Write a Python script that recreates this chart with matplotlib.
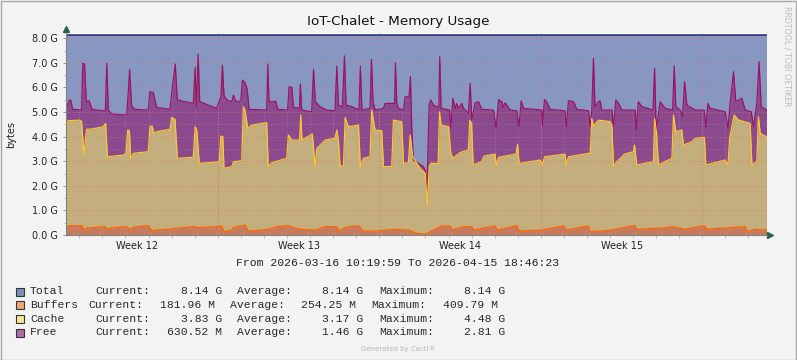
import matplotlib
matplotlib.use("Agg")
import matplotlib.pyplot as plt
from matplotlib.ticker import MultipleLocator, FuncFormatter
from matplotlib.patches import Rectangle

# --- time range (days since Mon 2026-03-16 00:00) ---
t_start = 10 / 24 + 19 / 1440 + 59 / 86400      # 2026-03-16 10:19:59
t_end = 30 + 18 / 24 + 46 / 1440 + 23 / 86400   # 2026-04-15 18:46:23

week_labels = ["Week 12", "Week 13", "Week 14", "Week 15"]
week_centers = [3.5, 10.5, 17.5, 24.5]
week_bounds = [7, 14, 21, 28]

# --- series, in G (stacked tops as drawn) ---
total_t = [t_start, t_end]
total_v = [8.14, 8.14]

free_t = [0.43, 0.57, 0.64, 0.71, 1.10, 1.15, 1.23, 1.30, 1.43, 1.55, 2.13, 2.19, 2.26, 2.40,
          3.05, 3.11, 3.18, 3.27, 3.41, 3.99, 4.06, 4.21, 4.35, 4.93, 5.02, 5.16, 5.25, 5.94,
          6.02, 6.07, 6.15, 6.22, 6.95, 7.14, 7.20, 7.27, 7.39, 7.61, 7.68, 7.78, 8.00, 8.07,
          8.18, 8.27, 8.36, 9.12, 9.17, 9.22, 9.45, 9.51, 9.60, 10.03, 10.09, 10.21, 10.28,
          10.54, 10.58, 10.64, 11.07, 11.15, 11.23, 11.43, 11.72, 12.08, 12.16, 12.23, 12.40,
          12.49, 12.56, 12.81, 13.12, 13.18, 13.25, 13.60, 13.66, 13.73, 13.82, 14.18, 14.25,
          14.66, 14.70, 14.76, 14.83, 15.05, 15.12, 15.29, 15.35, 15.41, 15.48, 15.91, 16.00,
          16.06, 16.16, 16.23, 16.35, 16.58, 16.62, 16.68, 17.04, 17.10, 17.19, 17.29, 17.36,
          17.43, 17.58, 17.65, 17.86, 17.94, 18.01, 18.15, 18.30, 18.44, 18.95, 19.06, 19.17,
          19.31, 19.38, 19.45, 19.67, 19.96, 20.05, 20.15, 20.25, 21.04, 21.07, 21.16, 21.26,
          21.40, 22.05, 22.10, 22.20, 22.42, 22.56, 23.07, 23.14, 23.21, 23.28, 23.35, 23.50,
          23.57, 23.64, 24.08, 24.15, 24.25, 24.37, 24.51, 25.09, 25.13, 25.23, 25.38, 25.86,
          25.93, 26.00, 26.17, 26.39, 26.71, 26.78, 26.85, 27.04, 27.14, 27.23, 27.33, 27.69,
          28.08, 28.15, 28.24, 28.34, 28.99, 29.11, 29.21, 29.35, 29.45, 29.71, 29.86, 30.12,
          30.22, 30.36, 30.46, 30.55, 30.78]
free_v = [5.15, 5.49, 5.46, 5.11, 5.08, 6.98, 6.95, 5.42, 5.46, 5.11, 5.04, 6.98, 5.08, 4.92,
          4.88, 5.62, 6.73, 5.24, 5.11, 5.08, 5.83, 5.79, 5.19, 5.11, 5.89, 6.95, 5.49, 5.35,
          6.82, 5.19, 7.36, 5.42, 5.15, 5.62, 6.91, 5.69, 5.49, 5.42, 5.69, 5.42, 5.45, 6.30,
          6.19, 5.96, 5.11, 5.08, 6.95, 5.42, 5.42, 5.45, 5.11, 5.08, 6.03, 6.00, 5.19,
          5.15, 6.14, 5.08, 5.01, 6.73, 5.42, 5.22, 5.08, 5.05, 6.87, 5.28, 5.22,
          7.28, 5.28, 5.22, 5.08, 6.87, 5.08, 5.15, 7.14, 5.42, 5.08, 5.15, 5.35,
          5.35, 7.00, 5.35, 5.15, 5.08, 5.62, 5.62, 6.44, 4.27, 3.05, 2.78, 2.60,
          1.69, 5.28, 5.49, 5.28, 5.19, 7.25, 5.15, 5.08, 4.40, 5.56, 5.15, 5.35,
          5.15, 5.35, 5.15, 4.95, 6.17, 4.67, 5.35, 5.42, 5.11, 5.08, 4.34, 5.51,
          5.42, 5.20, 5.38, 5.08, 5.05, 4.40, 5.46, 5.15, 5.08, 4.47, 5.51, 5.42,
          5.11, 5.05, 4.40, 5.46, 5.42, 5.11, 5.05, 4.40, 5.08, 7.18, 5.22, 5.42,
          5.46, 5.08, 5.08, 4.40, 5.49, 5.35, 5.08, 5.08, 4.27, 5.42, 5.22, 5.08,
          6.78, 4.27, 5.42, 5.15, 5.08, 6.87, 5.22, 5.08, 4.81, 6.23, 5.28, 5.08,
          5.08, 4.40, 5.35, 5.15, 5.01, 4.34, 5.42, 6.64, 5.42, 5.56, 5.08, 5.01,
          4.40, 5.35, 7.05, 5.22, 5.08]

cache_t = [0.43, 0.52, 1.03, 1.10, 1.20, 1.28, 1.32, 1.54, 2.04, 2.14, 2.22, 2.91, 3.02, 3.10,
           3.17, 3.23, 3.34, 3.99, 4.06, 4.15, 4.24, 4.35, 4.93, 5.00, 5.15, 5.25, 5.94, 6.02,
           6.09, 6.20, 7.07, 7.13, 7.22, 7.27, 7.61, 7.68, 8.04, 8.11, 8.18, 8.30, 8.47, 9.12,
           9.19, 9.34, 9.99, 10.06, 10.21, 10.54, 10.60, 10.65, 11.10, 11.22, 11.29, 11.65,
           12.08, 12.16, 12.23, 12.30, 12.45, 12.52, 12.66, 13.10, 13.18, 13.31, 13.60, 13.67,
           13.82, 14.11, 14.18, 14.54, 14.61, 14.97, 15.05, 15.26, 15.34, 15.45, 15.77, 15.99,
           16.09, 16.16, 16.23, 16.55, 16.61, 16.68, 17.00, 17.10, 17.19, 17.50, 17.86, 17.92,
           18.00, 18.07, 18.44, 18.54, 19.02, 19.06, 19.17, 19.93, 19.99, 20.06, 20.97, 21.07,
           21.16, 22.05, 22.10, 22.20, 23.07, 23.14, 23.21, 23.28, 23.50, 24.00, 24.08, 24.15,
           24.29, 24.63, 25.02, 25.06, 25.16, 25.88, 25.93, 26.01, 26.10, 26.68, 26.75, 26.85,
           27.11, 27.18, 27.54, 27.69, 28.09, 28.15, 28.99, 29.11, 29.18, 29.38, 29.57, 30.07,
           30.15, 30.36, 30.43, 30.51, 30.78]
cache_v = [4.40, 4.65, 4.67, 4.61, 3.30, 4.00, 4.30, 4.31, 4.40, 4.54, 3.18, 3.25, 3.32, 4.27,
           4.24, 3.12, 3.32, 3.39, 4.40, 4.44, 4.13, 4.20, 4.30, 4.78, 4.70, 3.12, 3.16, 4.40,
           4.27, 2.91, 2.98, 4.02, 4.00, 2.71, 2.78, 2.98, 3.02, 5.22, 5.08, 4.34, 4.47, 4.57,
           2.78, 2.94, 3.12, 4.07, 3.86, 3.86, 4.88, 3.86, 4.11, 2.78, 3.52, 3.86,
           3.93, 4.27, 3.86, 2.78, 2.85, 4.78, 4.40, 4.47, 2.78, 3.12, 3.18, 5.08,
           4.27, 4.24, 2.78, 2.78, 4.67, 4.61, 2.91, 2.94, 4.07, 3.18, 2.71, 2.51,
           1.22, 2.78, 2.91, 2.91, 5.01, 4.47, 4.40, 3.32, 3.12, 3.35, 3.46, 4.67,
           4.54, 2.85, 2.98, 3.21, 3.29, 2.85, 3.16, 3.29, 3.69, 2.91, 3.05, 2.85,
           3.18, 3.29, 2.85, 3.18, 3.32, 3.30, 4.74, 4.43, 4.67, 4.61, 4.47, 2.78,
           2.98, 3.29, 3.39, 3.66, 2.85, 2.98, 4.74, 4.20, 2.85, 3.12, 4.88, 4.20,
           4.27, 3.66, 3.79, 3.93, 3.97, 2.85, 3.05, 2.85, 3.93, 4.88, 4.67, 4.54,
           2.85, 2.98, 4.81, 4.13, 4.00]

buffers_t = [0.43, 0.57, 1.12, 1.20, 1.32, 2.11, 2.19, 2.33, 3.05, 3.20, 3.34, 3.99, 4.18, 4.35,
             4.93, 5.15, 5.94, 6.23, 6.95, 7.17, 7.27, 7.61, 7.68, 8.11, 8.18, 8.33, 8.90, 9.19,
             9.55, 10.06, 10.35, 10.64, 11.22, 11.65, 12.16, 12.23, 12.52, 13.10, 13.31, 13.82,
             14.69, 15.26, 15.55, 15.62, 16.06, 16.20, 16.71, 17.07, 17.14, 17.65, 18.01, 18.08,
             19.02, 19.12, 19.96, 20.07, 21.04, 21.98, 22.10, 23.06, 23.14, 24.08, 25.06, 25.16,
             26.53, 26.68, 27.25, 28.09, 28.19, 29.28, 29.86, 29.93, 30.29, 30.78]
buffers_v = [0.31, 0.38, 0.38, 0.20, 0.28, 0.34, 0.23, 0.28, 0.34, 0.23, 0.32, 0.38, 0.16, 0.20,
             0.24, 0.27, 0.34, 0.30, 0.34, 0.37, 0.14, 0.20, 0.31, 0.38, 0.41, 0.16, 0.20, 0.23,
             0.34, 0.38, 0.27, 0.23, 0.20, 0.34, 0.34, 0.16, 0.31, 0.38, 0.16, 0.16,
             0.23, 0.20, 0.09, 0.07, 0.04, 0.14, 0.37, 0.36, 0.20, 0.34, 0.34, 0.20,
             0.37, 0.20, 0.38, 0.16, 0.20, 0.37, 0.20, 0.37, 0.14, 0.20, 0.39, 0.23,
             0.30, 0.34, 0.23, 0.38, 0.24, 0.30, 0.34, 0.14, 0.23, 0.20]

legend_names = ["Total", "Buffers", "Cache", "Free"]
legend_current = ["8.14 G", "181.96 M", "3.83 G", "630.52 M"]
legend_average = ["8.14 G", "254.25 M", "3.17 G", "1.46 G"]
legend_maximum = ["8.14 G", "409.79 M", "4.48 G", "2.81 G"]
legend_swatch = ["#7F8DB6", "#F4A173", "#FCE196", "#B46AA4"]

W, H = 797, 360
fig = plt.figure(figsize=(W / 100, H / 100), dpi=100, facecolor="#F3F3F3")
ax = fig.add_axes([66.15 / W, 125 / H, 700.4 / W, 201.7 / H])

# areas painted back to front
ax.fill_between(total_t, 0, total_v, color="#8896C2", lw=0, zorder=1)
ax.fill_between(free_t, 0, free_v, color="#8B4A8E", lw=0, zorder=1.1)
ax.fill_between(cache_t, 0, cache_v, color="#C4AF7C", lw=0, zorder=1.2)
ax.fill_between(buffers_t, 0, buffers_v, color="#C87A5E", lw=0, zorder=1.3)

ax.plot(total_t, total_v, color="#1C2673", lw=1.1, zorder=3)
ax.plot(free_t, free_v, color="#9A1262", lw=0.85, zorder=3)
ax.plot(cache_t, cache_v, color="#FFC62E", lw=0.85, zorder=3)
ax.plot(buffers_t, buffers_v, color="#FF6400", lw=0.9, zorder=3)

ax.set_xlim(t_start, t_end)
ax.set_ylim(0, 8.2)

# grid
dot = (0, (1, 2))
ax.yaxis.set_major_locator(MultipleLocator(1))
ax.yaxis.set_minor_locator(MultipleLocator(0.5))
ax.yaxis.set_major_formatter(FuncFormatter(lambda v, p: f"{v:.1f} G"))
ax.set_xticks(week_centers, week_labels)
ax.xaxis.set_minor_locator(MultipleLocator(1))
ax.set_axisbelow(False)
ax.grid(axis="y", which="major", color="#E07070", ls=dot, lw=0.7, alpha=0.75)
ax.grid(axis="y", which="minor", color="#A0A0A0", ls=dot, lw=0.6, alpha=0.6)
ax.grid(axis="x", which="minor", color="#A0A0A0", ls=dot, lw=0.6, alpha=0.6)
for wb in week_bounds:
    ax.axvline(wb, color="#E07070", ls=dot, lw=0.7, alpha=0.75, zorder=2.6)

for s in ["top", "right"]:
    ax.spines[s].set_visible(False)
for s in ["left", "bottom"]:
    ax.spines[s].set_color("#7A8A7A")
    ax.spines[s].set_linewidth(0.8)
    ax.spines[s].set_zorder(4)

ax.tick_params(axis="y", which="major", length=2, width=0.6, color="#888888", pad=4,
               labelsize=7, labelcolor="#222222")
ax.tick_params(axis="y", which="minor", length=1.5, width=0.5, color="#AAAAAA")
ax.tick_params(axis="x", which="major", length=0, pad=4, labelsize=7, labelcolor="#222222")
ax.tick_params(axis="x", which="minor", length=2, width=0.5, color="#AAAAAA")

# axis arrows
ax.plot([0], [1.02], marker="^", ms=4, color="#2F5F4F", transform=ax.transAxes, clip_on=False)
ax.plot([1.005], [0], marker=">", ms=4, color="#2F5F4F", transform=ax.transAxes, clip_on=False)

ax.set_ylabel("bytes", fontsize=7, color="#222222")
ax.yaxis.set_label_coords(-50 / 700.4, 0.5)

fig.text(398 / W, 1 - 21 / H, "IoT-Chalet - Memory Usage", ha="center", va="center",
         fontsize=9.7, color="#111111")
fig.text(787.5 / W, 1 - 56 / H, "RRDTOOL / TOBI OETIKER", ha="center", va="center",
         rotation=270, fontsize=5.7, color="#BDBDBD")

mono = "Liberation Mono"
fig.text(398 / W, 1 - 262.7 / H, "From 2026-03-16 10:19:59 To 2026-04-15 18:46:23",
         ha="center", va="center", fontsize=8.2, family=mono, color="#222222")

row_y = [291, 304.6, 318.6, 332.4]
cur_x = [95, 88.3, 95, 95]
shift = [0, -7.4, 0, 0]
for i, name in enumerate(legend_names):
    yy = 1 - row_y[i] / H
    fig.add_artist(Rectangle((15.5 / W, 1 - (row_y[i] + 4.5) / H), 8 / W, 8 / H,
                             transform=fig.transFigure, facecolor=legend_swatch[i],
                             edgecolor="#2A3A3A", lw=0.8))
    kw = dict(va="center", fontsize=8.2, family=mono, color="#2A2A2A")
    fig.text(30 / W, yy, name, ha="left", **kw)
    fig.text(cur_x[i] / W, yy, "Current:", ha="left", **kw)
    fig.text((222 + shift[i]) / W, yy, legend_current[i], ha="right", **kw)
    fig.text((237.3 + shift[i]) / W, yy, "Average:", ha="left", **kw)
    fig.text((363 + shift[i]) / W, yy, legend_average[i], ha="right", **kw)
    fig.text((379 + shift[i]) / W, yy, "Maximum:", ha="left", **kw)
    fig.text((505 + shift[i]) / W, yy, legend_maximum[i], ha="right", **kw)

fig.text(398.5 / W, 1 - 349 / H, "Generated by Cacti®", ha="center", va="center",
         fontsize=5, color="#B8B8B8")

# outer frame
fig.add_artist(Rectangle((0.5 / W, 0.5 / H), (W - 1.5) / W, (H - 1.5) / H,
                         transform=fig.transFigure, fill=False, edgecolor="#A8A8A8", lw=1))

fig.savefig("out.png", dpi=100, facecolor=fig.get_facecolor())
